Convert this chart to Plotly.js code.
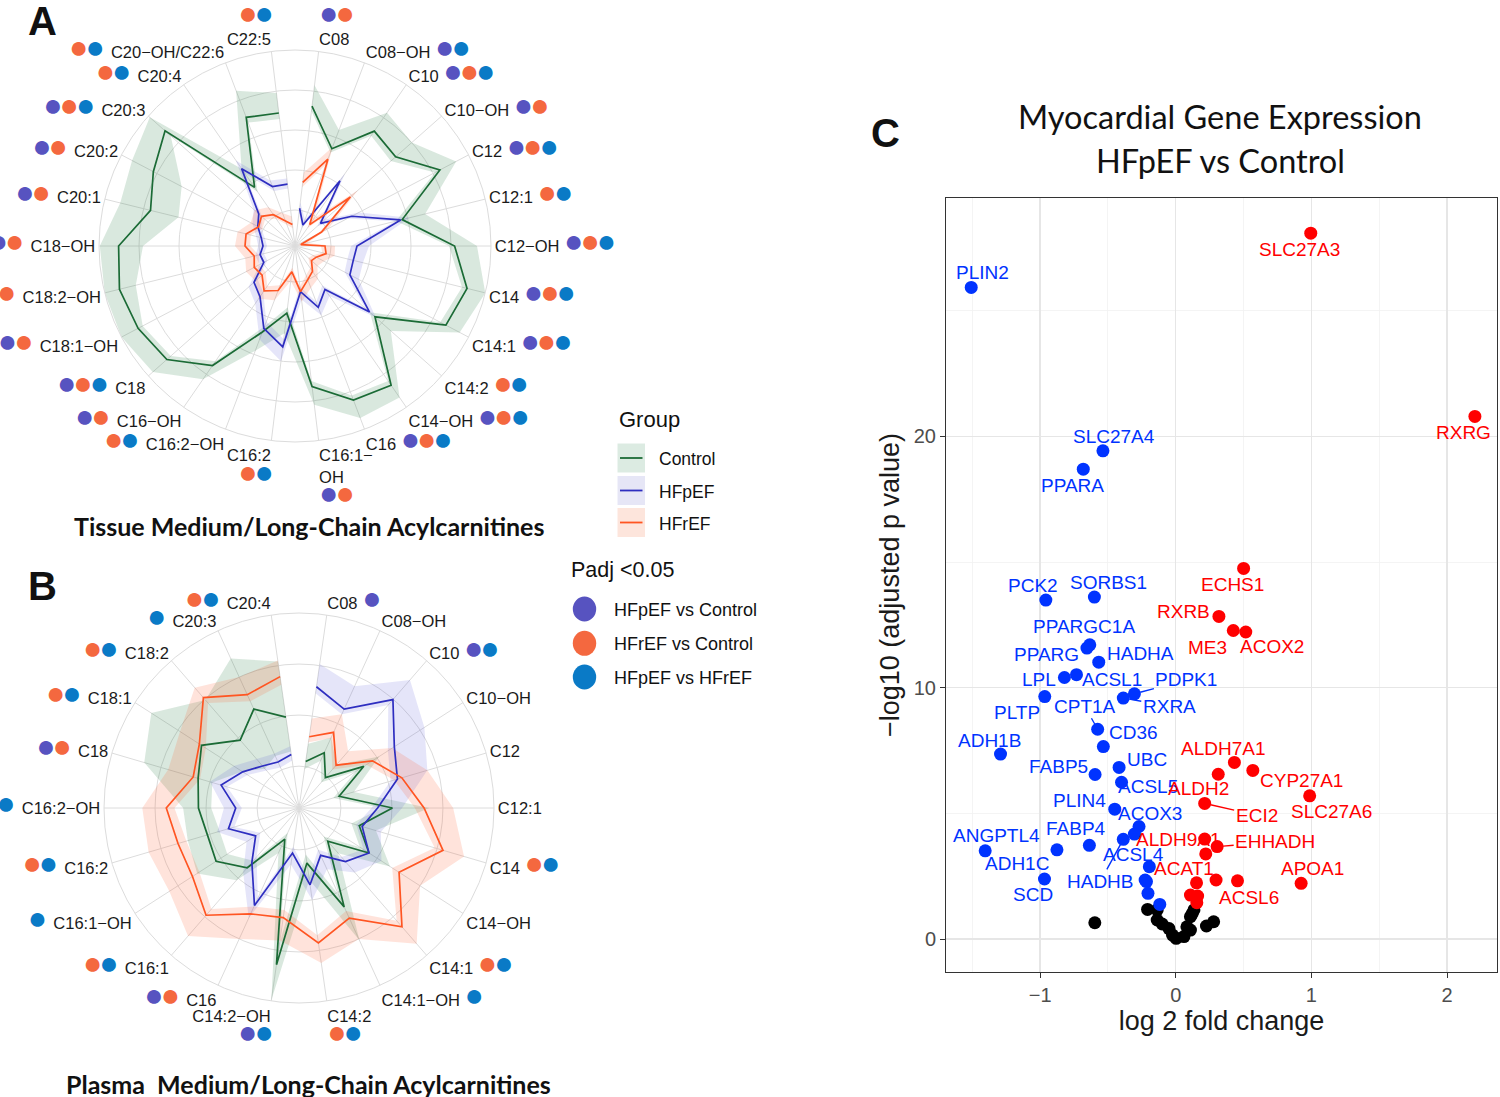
<!DOCTYPE html>
<html><head><meta charset="utf-8">
<script src="https://cdn.plot.ly/plotly-3.0.1.min.js"></script>
<style>html,body{margin:0;padding:0;background:#fff}#chart{width:1500px;height:1097px}</style>
</head><body><div id="chart"></div>
<script>
// ================= DATA =================
// Panel A: tissue acylcarnitines (radial units = grid rings)
const tissueCats = ['C08','C08−OH','C10','C10−OH','C12','C12:1','C12−OH','C14','C14:1','C14:2','C14−OH','C16','C16:1−OH','C16:2','C16:2−OH','C16−OH','C18','C18:1−OH','C18:2−OH','C18−OH','C20:1','C20:2','C20:3','C20:4','C20−OH/C22:6','C22:5'];
const tissueControl     = [3.62,2.70,3.59,3.46,4.19,2.86,4.09,4.53,4.36,2.77,4.33,4.22,3.64,1.79,2.40,3.73,4.38,4.53,4.62,4.51,3.82,4.10,4.44,1.88,3.54,3.45];
const tissueControlLow  = [3.50,2.60,3.45,3.30,4.05,2.70,3.95,4.40,4.20,2.60,4.20,4.10,3.50,1.65,2.25,3.60,4.25,4.40,4.20,3.90,3.10,3.30,4.25,1.75,3.40,3.30];
const tissueControlHigh = [4.15,3.20,4.15,4.00,4.65,3.45,4.65,5.00,4.75,3.30,4.70,4.70,4.10,2.30,2.90,4.15,4.85,5.00,5.00,4.98,4.60,4.70,4.95,2.45,4.25,3.95];
const tissueHFpEF       = [1.05,0.66,2.08,0.95,1.70,2.82,1.65,1.60,1.65,2.59,1.42,1.74,1.25,2.64,2.30,1.64,1.47,0.98,1.00,0.90,0.97,1.15,1.31,2.45,1.69,1.66];
const tissueHFpEFLow    = [0.95,0.58,1.95,0.85,1.58,2.68,1.50,1.45,1.50,2.45,1.30,1.60,1.12,2.45,2.12,1.50,1.35,0.88,0.90,0.80,0.87,1.05,1.20,2.30,1.57,1.55];
const tissueHFpEFHigh   = [1.20,0.80,2.30,1.10,1.90,3.05,1.95,1.85,1.90,2.80,1.62,1.95,1.45,3.00,2.60,1.85,1.65,1.10,1.12,1.02,1.10,1.30,1.48,2.70,1.85,1.80];
const tissueHFrEF       = [1.70,2.42,0.75,1.95,0.85,0.25,0.85,0.90,0.70,0.65,0.87,1.00,1.25,0.75,1.29,1.46,1.20,1.25,1.15,1.35,1.36,1.13,1.22,1.05,0.77,0.64];
const tissueHFrEFLow    = [1.58,2.28,0.65,1.82,0.75,0.18,0.75,0.80,0.60,0.55,0.77,0.88,1.12,0.65,1.15,1.32,1.08,1.12,1.03,1.22,1.24,1.02,1.10,0.93,0.67,0.55];
const tissueHFrEFHigh   = [1.95,2.75,0.95,2.20,1.05,0.42,1.10,1.12,0.92,0.85,1.10,1.22,1.50,0.98,1.55,1.70,1.42,1.48,1.38,1.60,1.58,1.35,1.45,1.28,0.98,0.85];
// significance codes: P = HFpEF vs Control, R = HFrEF vs Control, B = HFpEF vs HFrEF
const tissueSig = ['PR','PB','PRB','PR','PRB','RB','PRB','PRB','PRB','RB','PRB','PRB','PR','RB','RB','PR','PRB','PR','PR','PR','PR','PR','PRB','RB','RB','RB'];

// Panel B: plasma acylcarnitines
const plasmaCats = ['C08','C08−OH','C10','C10−OH','C12','C12:1','C14','C14−OH','C14:1','C14:1−OH','C14:2','C14:2−OH','C16','C16:1','C16:1−OH','C16:2','C16:2−OH','C18','C18:1','C18:2','C20:3','C20:4'];
const plasmaControl     = [1.10,1.37,0.97,1.69,1.00,2.01,1.41,1.81,1.04,2.31,1.27,3.28,0.85,1.73,2.11,2.05,2.15,2.24,2.45,1.94,2.31,1.98];
const plasmaControlLow  = [0.95,1.20,0.85,1.50,0.88,1.80,1.25,1.60,0.92,2.05,1.10,2.85,0.72,1.55,1.85,1.80,1.90,1.95,1.50,1.20,1.30,1.30];
const plasmaControlHigh = [1.45,1.70,1.30,2.05,1.30,2.73,1.75,2.30,1.35,3.03,1.60,3.98,1.15,2.05,2.55,2.45,2.45,3.34,3.62,2.98,3.40,3.08];
const plasmaHFpEF       = [2.58,2.31,2.99,2.40,2.19,1.72,1.47,1.81,1.57,1.20,1.70,1.07,2.28,1.59,1.19,1.62,1.42,1.77,1.49,1.27,1.17,1.24];
const plasmaHFpEFLow    = [2.45,2.20,2.85,2.25,2.05,1.60,1.35,1.68,1.45,1.08,1.55,0.95,2.12,1.45,1.08,1.50,1.30,1.65,1.38,1.15,1.05,1.12];
const plasmaHFpEFHigh   = [3.03,2.80,3.50,3.10,2.80,2.20,1.85,2.10,1.85,1.50,2.00,1.30,2.55,1.85,1.40,1.85,1.65,2.00,1.70,1.45,1.35,1.40];
const plasmaHFrEF       = [1.59,1.81,1.29,1.89,2.28,2.63,3.12,2.51,3.26,2.55,2.85,2.35,2.46,2.96,2.66,2.65,2.78,2.34,2.50,3.04,2.62,2.78];
const plasmaHFrEFLow    = [1.48,1.68,1.18,1.75,2.12,2.45,2.95,2.35,3.10,2.40,2.70,2.20,2.30,2.80,2.50,2.48,2.62,2.20,2.35,2.90,2.48,2.62];
const plasmaHFrEFHigh   = [1.95,2.20,1.65,2.35,2.80,3.20,3.55,3.00,3.70,3.00,3.25,2.80,3.00,3.50,3.20,3.25,3.25,2.85,2.95,3.30,3.00,3.10];
const plasmaSig = ['P','','PB','','','','RB','','RB','B','RB','PB','PR','RB','B','RB','B','PR','RB','RB','B','RB'];

// Panel C: volcano
const downGenes    = ['PLIN2','SLC27A4','PPARA','PCK2','SORBS1','PPARGC1A','PPARG','HADHA','LPL','ACSL1','PLTP','PDPK1','RXRA','CPT1A','CD36','ADH1B','UBC','FABP5','ACSL5','PLIN4','ACOX3','ACSL4','FABP4','ANGPTL4','ADH1C','HADHB','SCD'];
const downLog2FC   = [-1.508,-0.537,-0.682,-0.958,-0.600,-0.634,-0.655,-0.568,-0.821,-0.732,-0.966,-0.305,-0.387,-0.576,-0.534,-1.292,-0.418,-0.595,-0.400,-0.450,-0.271,-0.305,-0.637,-1.405,-0.876,-0.387,-0.968];
const downNegLogP  = [25.93,19.43,18.70,13.49,13.61,11.71,11.58,11.02,10.41,10.52,9.65,9.76,9.59,8.35,7.66,7.36,6.83,6.55,6.24,5.17,4.48,4.18,3.73,3.51,3.55,3.97,2.39];
const downOtherLog2FC  = [-0.195,-0.226,-0.216,-0.205,-0.118];
const downOtherNegLogP = [2.88,2.35,2.29,1.82,1.38];
const upGenes      = ['SLC27A3','RXRG','ECHS1','RXRB','ME3','ACOX2','ALDH7A1','ALDH2','CYP27A1','SLC27A6','ECI2','ALDH9A1','EHHADH','ACAT1','ACSL6','APOA1'];
const upLog2FC     = [0.995,2.205,0.500,0.318,0.424,0.516,0.432,0.313,0.568,0.987,0.213,0.213,0.305,0.153,0.455,0.924];
const upNegLogP    = [28.09,20.80,14.75,12.84,12.28,12.22,7.03,6.56,6.71,5.70,5.40,3.98,3.68,2.24,2.32,2.22];
const upOtherLog2FC  = [0.221,0.297,0.108,0.161,0.155];
const upOtherNegLogP = [3.39,2.35,1.75,1.71,1.45];
const nsLog2FC   = [-0.597,-0.208,-0.137,-0.137,-0.050,0.003,-0.024,0.082,0.108,0.134,0.108,0.226,0.279,0.120,-0.100,0.060];
const nsNegLogP  = [0.65,1.18,1.16,0.76,0.42,0.03,0.16,0.49,0.36,1.16,0.89,0.52,0.69,1.00,0.60,0.10];

// ================= STYLE / LAYOUT HELPERS =================
const W = 1500, H = 1097;
const X = p => p / W, Y = p => 1 - p / H;
const FONT = 'Liberation Sans, Arial, Helvetica, sans-serif';
const sigColors = {P:'#5753C0', R:'#F4683F', B:'#0A7AC6'};
const groupColors = {Control:'#1B6B36', HFpEF:'#2E2EC0', HFrEF:'#FF5522'};
const ribbonColors = {Control:'rgba(27,120,60,0.17)', HFpEF:'rgba(70,70,210,0.14)', HFrEF:'rgba(255,90,40,0.17)'};
// placement of significance dots: r = after, l = before, t = above, b = below
const tissuePlace = 't' + 'r'.repeat(11) + 'bb' + 'l'.repeat(11) + 't';
const plasmaPlace = 'r'.repeat(10) + 'bb' + 'l'.repeat(10);
const tissueLabelOverride = {'C16:1−OH':'C16:1−<br>OH'};

function dots(code){
  return code.split('').map(c => `<span style="color:${sigColors[c]};font-size:32px;letter-spacing:-3px">●</span>`).join('');
}
function tickTexts(cats, sig, place, override){
  return cats.map((c,i) => {
    const n = (override && override[c]) || c;
    const d = dots(sig[i]);
    if(!d) return n;
    switch(place[i]){
      case 'r': return n + ' ' + d;
      case 'l': return d + '  ' + n;
      case 't': return d + '<br>' + n;
      default: return n + '<br>' + d;
    }
  });
}
function ribbon(cats, lo, hi, grp, sub){
  return {type:'scatterpolar', subplot:sub, mode:'lines',
    theta: cats.concat(cats.slice().reverse()),
    r: hi.concat(lo.slice().reverse()),
    fill:'toself', fillcolor: ribbonColors[grp], line:{width:0, color:'rgba(0,0,0,0)'},
    hoverinfo:'skip', showlegend:false};
}
function line(cats, v, grp, sub){
  return {type:'scatterpolar', subplot:sub, mode:'lines', theta:cats, r:v, name:grp,
    line:{color:groupColors[grp], width:1.7}, showlegend:false};
}

const traces = [
  ribbon(tissueCats, tissueControlLow, tissueControlHigh, 'Control', 'polar'),
  ribbon(tissueCats, tissueHFpEFLow, tissueHFpEFHigh, 'HFpEF', 'polar'),
  ribbon(tissueCats, tissueHFrEFLow, tissueHFrEFHigh, 'HFrEF', 'polar'),
  line(tissueCats, tissueControl, 'Control', 'polar'),
  line(tissueCats, tissueHFpEF, 'HFpEF', 'polar'),
  line(tissueCats, tissueHFrEF, 'HFrEF', 'polar'),
  ribbon(plasmaCats, plasmaControlLow, plasmaControlHigh, 'Control', 'polar2'),
  ribbon(plasmaCats, plasmaHFpEFLow, plasmaHFpEFHigh, 'HFpEF', 'polar2'),
  ribbon(plasmaCats, plasmaHFrEFLow, plasmaHFrEFHigh, 'HFrEF', 'polar2'),
  line(plasmaCats, plasmaControl, 'Control', 'polar2'),
  line(plasmaCats, plasmaHFpEF, 'HFpEF', 'polar2'),
  line(plasmaCats, plasmaHFrEF, 'HFrEF', 'polar2'),
  {type:'scatter', mode:'markers', x:nsLog2FC, y:nsNegLogP, marker:{color:'#000000', size:13}, showlegend:false},
  {type:'scatter', mode:'markers', x:downOtherLog2FC, y:downOtherNegLogP, marker:{color:'#0033FF', size:13}, showlegend:false},
  {type:'scatter', mode:'markers', x:downLog2FC, y:downNegLogP, text:downGenes, marker:{color:'#0033FF', size:13}, showlegend:false},
  {type:'scatter', mode:'markers', x:upOtherLog2FC, y:upOtherNegLogP, marker:{color:'#FF0000', size:13}, showlegend:false},
  {type:'scatter', mode:'markers', x:upLog2FC, y:upNegLogP, text:upGenes, marker:{color:'#FF0000', size:13}, showlegend:false}
];

// label offsets (px) for gene labels
const labelShift = {
  PLIN2:[11,15], SLC27A3:[-11,-16], RXRG:[-11,-16], SLC27A4:[11,14], PPARA:[-11,-16],
  ECHS1:[-11,-16], PCK2:[-13,15], SORBS1:[14,15], RXRB:[-35,5], ME3:[-26,-17], ACOX2:[26,-15],
  PPARGC1A:[-6,18], PPARG:[-40,-6], HADHA:[42,9], LPL:[-25,-2], ACSL1:[36,-5], PLTP:[-28,-16],
  CD36:[30,14], ADH1B:[-11,14], UBC:[28,8], FABP5:[-37,8], ACSL5:[26,-4], ALDH2:[-20,-14],
  ALDH7A1:[-11,14], CYP27A1:[49,-10], SLC27A6:[22,-16], PLIN4:[-35,9], ACOX3:[11,13],
  FABP4:[-13,17], ANGPTL4:[11,15], ADH1C:[-40,-14], ACSL4:[-1,-20], SCD:[-11,-15],
  ALDH9A1:[-26,0], ACAT1:[-13,14], ACSL6:[11,-17], APOA1:[11,15]
};
const labelLeader = {PDPK1:[52,-14], RXRA:[46,8], CPT1A:[-13,-23], ECI2:[52,12], EHHADH:[58,-5], HADHB:[-23,42]};

function geneAnn(name, x, y, color){
  const font = {family:FONT, size:19, color:color};
  if(labelLeader[name]){
    const [ax,ay] = labelLeader[name];
    return {xref:'x', yref:'y', x, y, text:name, showarrow:true, arrowhead:0, arrowwidth:1.4,
      arrowcolor:color, ax, ay, standoff:6, font};
  }
  const [dx,dy] = labelShift[name];
  return {xref:'x', yref:'y', x, y, text:name, showarrow:false, xshift:dx, yshift:dy, font};
}

const annotations = [];
downGenes.forEach((g,i) => annotations.push(geneAnn(g, downLog2FC[i], downNegLogP[i], '#0033FF')));
upGenes.forEach((g,i) => annotations.push(geneAnn(g, upLog2FC[i], upNegLogP[i], '#FF0000')));

function paperText(text, x, y, size, opts){
  return Object.assign({xref:'paper', yref:'paper', x:X(x), y:Y(y), text, showarrow:false,
    xanchor:'center', yanchor:'middle', font:{family:FONT, size, color:'#111'}}, opts||{});
}
const LATO = 'Lato, sans-serif';
annotations.push(paperText('<b>A</b>', 42, 21, 40));
annotations.push(paperText('<b>B</b>', 42, 586, 40));
annotations.push(paperText('<b>C</b>', 885, 133, 40));
annotations.push(paperText('<b>Tissue Medium/Long-Chain Acylcarnitines</b>', 309, 526, 25, {font:{family:LATO, size:25, color:'#111'}}));
annotations.push(paperText('<b>Plasma&nbsp; Medium/Long-Chain Acylcarnitines</b>', 308, 1084, 25, {font:{family:LATO, size:25, color:'#111'}}));
annotations.push(paperText('Myocardial Gene Expression', 1220, 117, 32.5, {font:{family:LATO, size:32.5, color:'#111'}}));
annotations.push(paperText('HFpEF vs Control', 1220, 160, 32.5, {font:{family:LATO, size:32.5, color:'#111'}}));

// legends
const shapes = [];
annotations.push(paperText('Group', 617, 420, 22, {xanchor:'left'}));
const groupRows = [['Control',458],['HFpEF',490.5],['HFrEF',522.5]];
const keyFill = {Control:'#dcebe2', HFpEF:'#e6e6f6', HFrEF:'#fde5dc'};
groupRows.forEach(([g,yc]) => {
  shapes.push({type:'rect', xref:'paper', yref:'paper', x0:X(617.5), x1:X(645), y0:Y(yc-14.5), y1:Y(yc+14.5), fillcolor:keyFill[g], line:{width:0}});
  shapes.push({type:'line', xref:'paper', yref:'paper', x0:X(620), x1:X(642.5), y0:Y(yc), y1:Y(yc), line:{color:groupColors[g], width:1.8}});
  annotations.push(paperText(g, 657, yc+1, 17.5, {xanchor:'left'}));
});
annotations.push(paperText('Padj &lt;0.05', 569, 570, 21.5, {xanchor:'left'}));
const padjRows = [['HFpEF vs Control','P',609],['HFrEF vs Control','R',643.3],['HFpEF vs HFrEF','B',677]];
padjRows.forEach(([t,c,yc]) => {
  shapes.push({type:'circle', xref:'paper', yref:'paper', x0:X(584.5-11.7), x1:X(584.5+11.7), y0:Y(yc+12.5), y1:Y(yc-12.5), fillcolor:sigColors[c], line:{width:0}});
  annotations.push(paperText(t, 611.5, yc+1, 18, {xanchor:'left'}));
});

function polarLayout(cats, sig, place, override, cx, cy, R, rmin, rmax, rings){
  return {
    domain:{x:[X(cx-R), X(cx+R)], y:[Y(cy+R), Y(cy-R)]},
    bgcolor:'#ffffff',
    angularaxis:{type:'category', categoryarray:cats, rotation:90 - 180/cats.length, direction:'clockwise',
      tickmode:'array', tickvals:cats, ticktext:tickTexts(cats, sig, place, override),
      showgrid:true, gridcolor:'#dcdcdc', gridwidth:1, showline:true, linecolor:'#dcdcdc', linewidth:1,
      ticks:'', tickfont:{family:FONT, size:16.5, color:'#1a1a1a'}},
    radialaxis:{range:[rmin, rmax], tickmode:'array', tickvals:rings, showticklabels:false, ticks:'',
      showline:false, gridcolor:'#dcdcdc', gridwidth:1}
  };
}

const layout = {
  width:W, height:H, margin:{l:0,r:0,t:0,b:0}, paper_bgcolor:'#fff', plot_bgcolor:'#fff',
  showlegend:false,
  polar: polarLayout(tissueCats, tissueSig, tissuePlace, tissueLabelOverride, 295, 246, 196, 0.1, 5, [1,2,3,4,5]),
  polar2: polarLayout(plasmaCats, plasmaSig, plasmaPlace, null, 299, 808, 195, 0.18, 4, [1,2,3,4]),
  xaxis:{domain:[X(946), X(1497)], range:[-1.694, 2.368], dtick:1, tick0:0, zeroline:false,
    showgrid:true, gridcolor:'#e6e6e6', gridwidth:1.3,
    minor:{dtick:0.5, showgrid:true, gridcolor:'#f1f1f1', gridwidth:0.8},
    showline:true, mirror:true, linecolor:'#333', linewidth:1,
    ticks:'outside', ticklen:5, tickcolor:'#333', tickwidth:1,
    tickfont:{family:FONT, size:20, color:'#4d4d4d'},
    title:{text:'log 2 fold change', font:{family:FONT, size:27, color:'#1a1a1a'}, standoff:6}},
  yaxis:{domain:[Y(972), Y(198)], range:[-1.31, 29.49], dtick:10, tick0:0, zeroline:false,
    showgrid:true, gridcolor:'#e6e6e6', gridwidth:1.3,
    minor:{dtick:5, showgrid:true, gridcolor:'#f1f1f1', gridwidth:0.8},
    showline:true, mirror:true, linecolor:'#333', linewidth:1,
    ticks:'outside', ticklen:5, tickcolor:'#333', tickwidth:1,
    tickfont:{family:FONT, size:20, color:'#4d4d4d'},
    title:{text:'−log10 (adjusted p value)', font:{family:FONT, size:27, color:'#1a1a1a'}, standoff:6}},
  annotations, shapes
};

Plotly.newPlot('chart', traces, layout, {staticPlot:true, displayModeBar:false});
</script>
</body></html>
